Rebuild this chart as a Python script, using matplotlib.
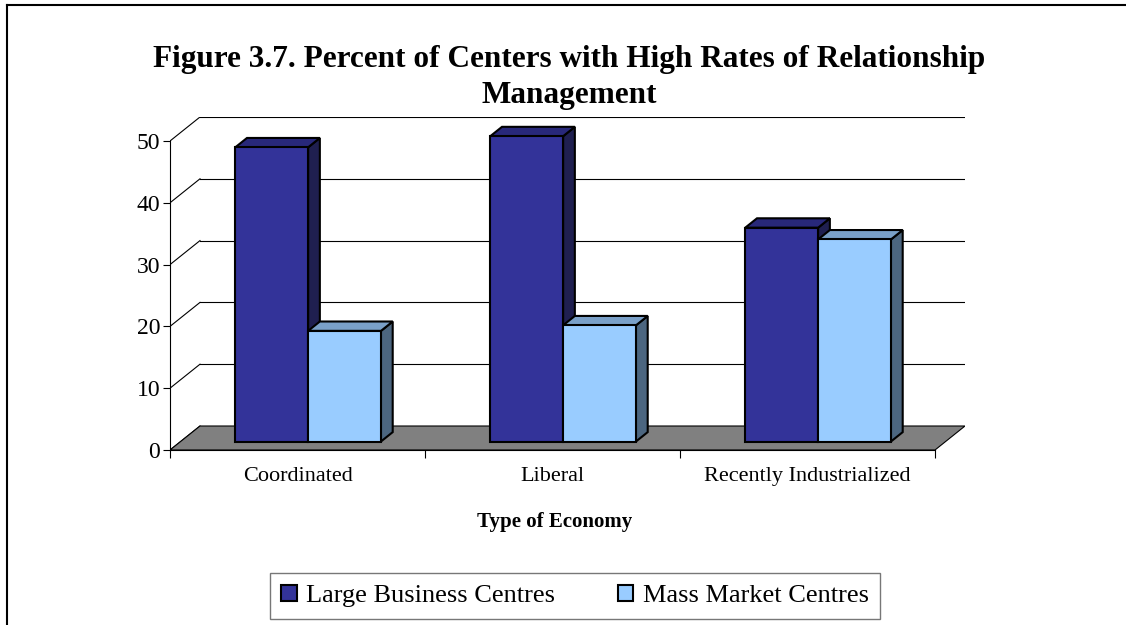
import matplotlib
matplotlib.use('Agg')
import matplotlib.pyplot as plt
from matplotlib.patches import Polygon, Patch
from matplotlib.lines import Line2D

plt.rcParams['font.family'] = ['Liberation Serif', 'DejaVu Serif']

# data
economies = ['Coordinated', 'Liberal', 'Recently Industrialized']
large_business = [47.6, 49.4, 34.6]
mass_market = [17.9, 18.8, 32.7]
yticks = [0, 10, 20, 30, 40, 50]

series = [
    ('Large Business Centres', large_business, '#333399', '#28287a', '#1f1f50'),
    ('Mass Market Centres', mass_market, '#99ccff', '#7aa0c8', '#4c6680'),
]

# fake 3d: depth offset of the floor in data units
n = len(economies)
dx = 30 / 255          # categories
dy = 24 / 6.18         # value units
f0, f1 = 0.354, 0.745  # front / back of the bars as fraction of depth
bar_w = 1 / 3.5        # excel gap width 150%

fig = plt.figure(figsize=(11.26, 6.25), dpi=100)
ax = fig.add_axes([170 / 1126, 1 - 450 / 625, 795 / 1126, 333 / 625])
ax.set_xlim(0, n + dx)
ax.set_ylim(0, yticks[-1] + dy)

# back wall gridlines and left wall diagonals
for v in yticks:
    if v > 0:
        ax.plot([dx, n + dx], [v + dy, v + dy], color='black', lw=0.8, zorder=1)
    ax.plot([0, dx], [v, v + dy], color='black', lw=0.8, zorder=1)

# floor
ax.add_patch(Polygon([(0, 0), (n, 0), (n + dx, dy), (dx, dy)], closed=True,
                     facecolor='#808080', edgecolor='black', lw=0.8, zorder=2))

# bars: side, top, front
for i in range(n):
    for j, (name, vals, front, top, side) in enumerate(series):
        x0 = i + 0.5 - bar_w + j * bar_w + f0 * dx
        y0 = f0 * dy
        x1 = x0 + bar_w
        h = vals[i]
        ddx = (f1 - f0) * dx
        ddy = (f1 - f0) * dy
        ax.add_patch(Polygon([(x1, y0), (x1 + ddx, y0 + ddy), (x1 + ddx, y0 + h + ddy), (x1, y0 + h)],
                             closed=True, facecolor=side, edgecolor='black', lw=1.5, zorder=3))
        ax.add_patch(Polygon([(x0, y0 + h), (x0 + ddx, y0 + h + ddy), (x1 + ddx, y0 + h + ddy), (x1, y0 + h)],
                             closed=True, facecolor=top, edgecolor='black', lw=1.5, zorder=3))
        ax.bar(x0, h, width=bar_w, bottom=y0, align='edge', color=front,
               edgecolor='black', lw=1.5, zorder=3)

# axes
for s in ['top', 'right']:
    ax.spines[s].set_visible(False)
ax.spines['left'].set_bounds(0, yticks[-1])
ax.spines['bottom'].set_bounds(0, n)
ax.spines['left'].set_zorder(4)
ax.spines['bottom'].set_zorder(4)
ax.set_yticks(yticks)
ax.tick_params(axis='y', length=5, width=0.8, labelsize=17, pad=2)
ax.set_xticks(range(n + 1))
ax.set_xticklabels([])
ax.set_xticks([i + 0.5 for i in range(n)], minor=True)
ax.set_xticklabels(economies, minor=True)
ax.tick_params(axis='x', which='major', length=6, width=0.8)
ax.tick_params(axis='x', which='minor', length=0, labelsize=16, pad=12)
ax.set_xlabel('Type of Economy', fontsize=15, fontweight='bold')
ax.xaxis.set_label_coords((555 - 170) / 795, (450 - 512) / 333)

fig.suptitle('Figure 3.7. Percent of Centers with High Rates of Relationship\nManagement',
             x=569 / 1126, y=1 - 45 / 625, fontsize=22.5, fontweight='bold', linespacing=1.3)

handles = [Patch(facecolor=c, edgecolor='black', lw=1.5) for _, _, c, _, _ in series]
fig.legend(handles, [s[0] for s in series], loc='center', ncol=2,
           bbox_to_anchor=(575 / 1126, 1 - 596 / 625), fontsize=19, frameon=True,
           fancybox=False, edgecolor='#555555', handlelength=0.6, handleheight=0.6,
           handletextpad=0.35, columnspacing=2.35, borderpad=0.45)

# chart area border (cut off at right and bottom)
fig.add_artist(Line2D([7 / 1126, 1], [1 - 5 / 625, 1 - 5 / 625], color='black', lw=1.5))
fig.add_artist(Line2D([7 / 1126, 7 / 1126], [0, 1 - 5 / 625], color='black', lw=1.5))

fig.savefig('out.png', dpi=100)
